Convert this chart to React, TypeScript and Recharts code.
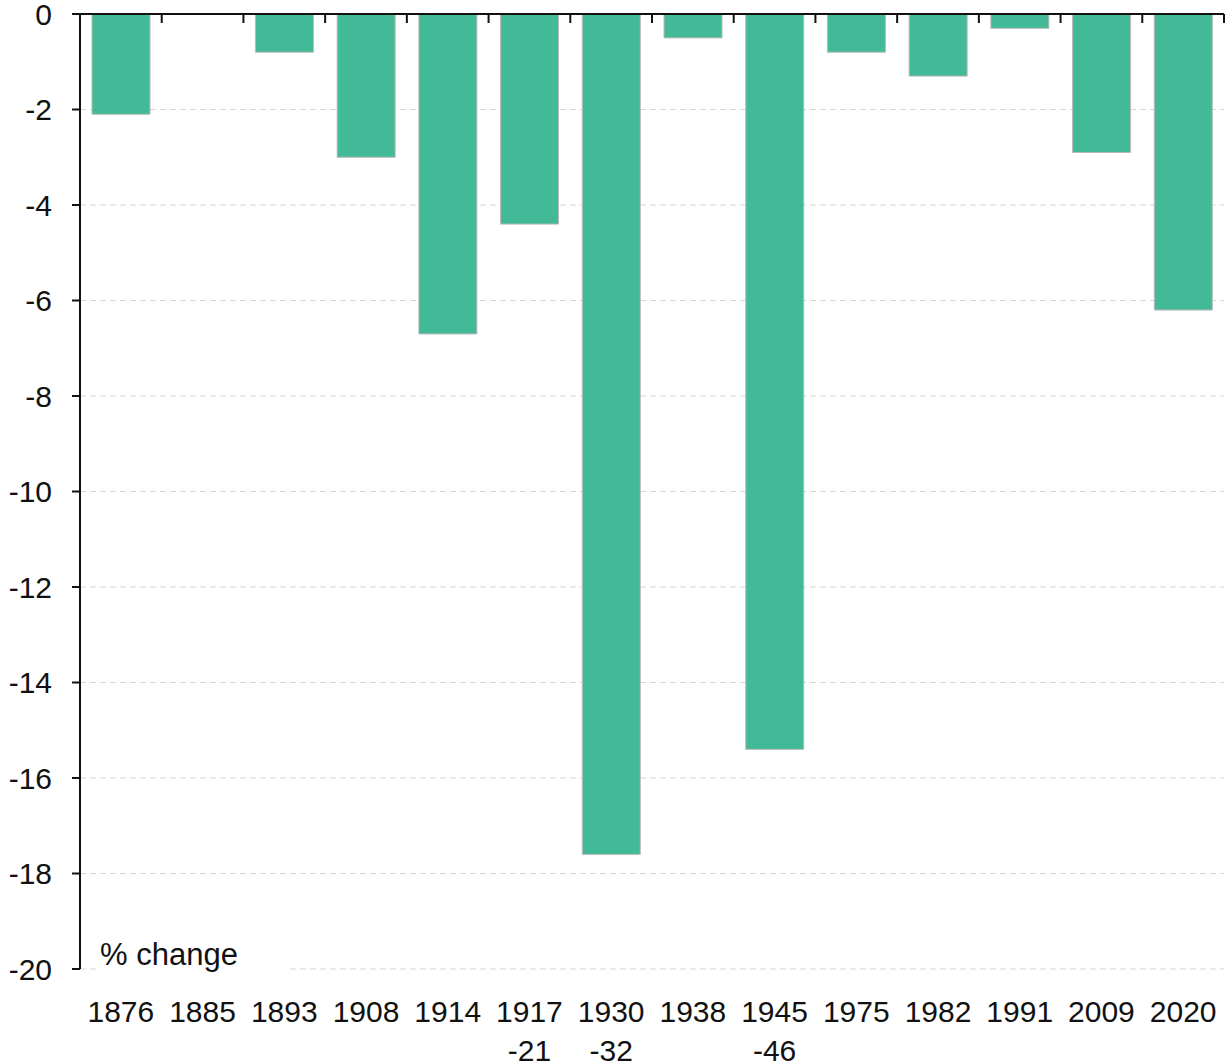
import React from 'react'
import { BarChart, Bar, XAxis, YAxis, CartesianGrid, Label } from 'recharts'

const episodes = ['1876', '1885', '1893', '1908', '1914', '1917\n-21', '1930\n-32', '1938', '1945\n-46', '1975', '1982', '1991', '2009', '2020']
const pctChange = [-2.1, 0, -0.8, -3.0, -6.7, -4.4, -17.6, -0.5, -15.4, -0.8, -1.3, -0.3, -2.9, -6.2]
const yTicks = [0, -2, -4, -6, -8, -10, -12, -14, -16, -18, -20]
const boundaryTicks = [1, 2, 3, 4, 5, 6, 7, 8, 9, 10, 11, 12, 13, 14]

const FONT = '"Liberation Sans", Arial, sans-serif'
const data = episodes.map((e, i) => ({ episode: e, value: pctChange[i], slot: i + 0.5 }))

function EpisodeTick({ x, y, payload }: any) {
  const lines = String(payload.value).split('\n')
  return (
    <text x={x} y={y} textAnchor="middle" fontFamily={FONT} fontSize={30} fill="#111">
      {lines.map((l, i) => (
        <tspan key={i} x={x} dy={i === 0 ? 45 : 39}>{l}</tspan>
      ))}
    </text>
  )
}

function UnitLabel({ viewBox }: any) {
  const x = viewBox.x + viewBox.width + 18
  const y = viewBox.y + viewBox.height
  return (
    <g>
      <rect x={x} y={y - 34} width={192} height={36} fill="#fff" />
      <text x={x + 2} y={y - 4} fontFamily={FONT} fontSize={31} fill="#111">% change</text>
    </g>
  )
}

const NoLabel = () => <g />

export default function App() {
  return (
    <div style={{ position: 'absolute', left: 0, top: 0, background: '#fff' }}>
      <BarChart width={1225} height={1063} data={data} margin={{ top: 14, right: 1, left: 0, bottom: 0 }}>
        <CartesianGrid vertical={false} stroke="#d6d6d6" strokeDasharray="6 4" />
        <XAxis
          dataKey="episode"
          height={94}
          axisLine={false}
          tickLine={false}
          interval={0}
          tick={<EpisodeTick />}
        />
        <XAxis
          xAxisId="top"
          dataKey="slot"
          type="number"
          orientation="top"
          domain={[0, 14]}
          ticks={boundaryTicks}
          interval={0}
          height={1}
          mirror
          tick={<NoLabel />}
          tickSize={9}
          allowDataOverflow
          axisLine={{ stroke: '#111', strokeWidth: 2 }}
          tickLine={{ stroke: '#111', strokeWidth: 2 }}
        />
        <YAxis
          width={80}
          domain={[-20, 0]}
          ticks={yTicks}
          interval={0}
          tickSize={8}
          tickMargin={20}
          axisLine={{ stroke: '#111', strokeWidth: 2 }}
          tickLine={{ stroke: '#111', strokeWidth: 2 }}
          tick={{ fontFamily: FONT, fontSize: 30, fill: '#111' }}
        >
          <Label content={<UnitLabel />} />
        </YAxis>
        <Bar dataKey="value" fill="#43ba97" stroke="#b9b9b9" strokeWidth={1} barSize={58} isAnimationActive={false} />
      </BarChart>
    </div>
  )
}
